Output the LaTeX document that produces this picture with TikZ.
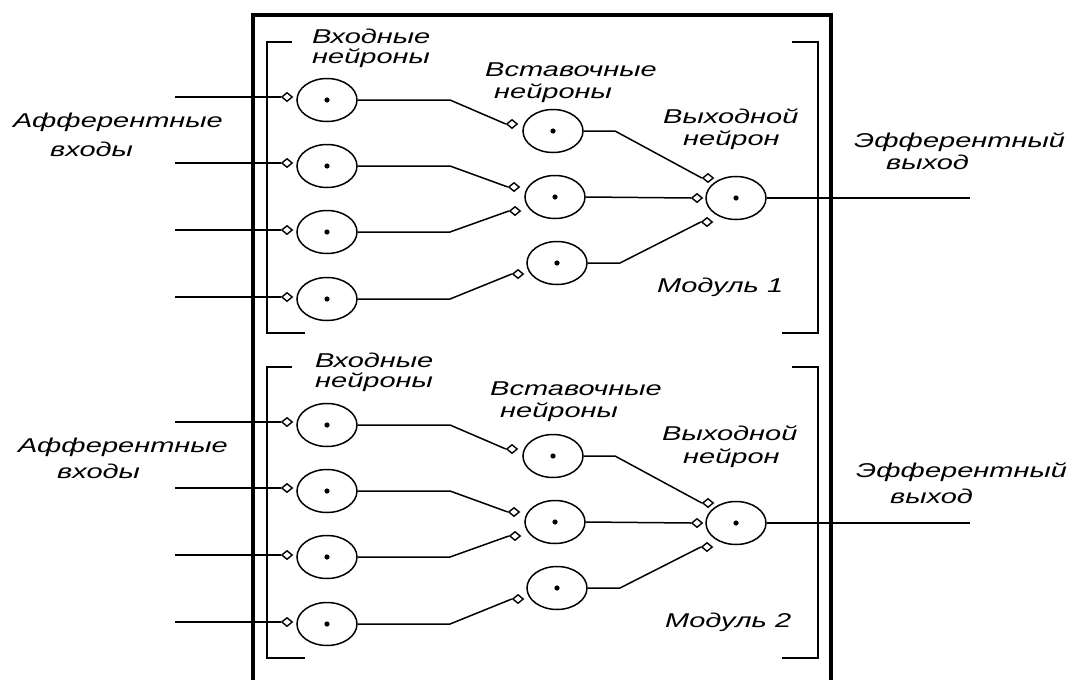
\documentclass[tikz,border=0pt]{standalone}
\usepackage{fontspec}
\usetikzlibrary{shapes.geometric}
\newfontfamily\labfont[FakeStretch=1.45]{Liberation Sans}
\tikzset{
  wire/.style={line width=1.5pt},
  frame/.style={line width=3.5pt},
  neuron/.style={ellipse, draw, line width=1.5pt, minimum width=60pt, minimum height=43pt, inner sep=0pt},
  syn/.style={diamond, draw, line width=1.4pt, fill=white, minimum width=11pt, minimum height=9pt, inner sep=0pt},
  lab/.style={anchor=base west, inner sep=0pt, font=\labfont\itshape\fontsize{20}{22}\selectfont},
}
\newcommand\drawmodule[2]{%
\begin{scope}[shift={(0,#2)}]
  % brackets
  \draw[wire] (292,42) -- (267,42) -- (267,333) -- (305,333);
  \draw[wire] (792,42) -- (818,42) -- (818,333) -- (782,333);
  % neurons
  \node[neuron] (I1#1) at (327,100) {};
  \node[neuron] (I2#1) at (327,166) {};
  \node[neuron] (I3#1) at (327,232) {};
  \node[neuron] (I4#1) at (327,299) {};
  \node[neuron] (J1#1) at (553,131) {};
  \node[neuron] (J2#1) at (555,197) {};
  \node[neuron] (J3#1) at (557,263) {};
  \node[neuron] (K#1) at (736,198) {};
  \foreach \n in {I1#1,I2#1,I3#1,I4#1,J1#1,J2#1,J3#1,K#1}
    \fill (\n.center) circle (2.6pt);
  % synapses
  \node[syn] (sI1#1) at (287,97) {};
  \node[syn] (sI2#1) at (287,163) {};
  \node[syn] (sI3#1) at (287,230) {};
  \node[syn] (sI4#1) at (287,297) {};
  \node[syn] (sJ1#1) at (512,124) {};
  \node[syn] (sJ2a#1) at (514,187) {};
  \node[syn] (sJ2b#1) at (515,211) {};
  \node[syn] (sJ3#1) at (518,274) {};
  \node[syn] (sKa#1) at (708,178) {};
  \node[syn] (sKb#1) at (697,198) {};
  \node[syn] (sKc#1) at (707,222) {};
  % helper coordinates
  \coordinate (in#1) at (175,0);
  \coordinate (out#1) at (970,0);
  \coordinate (bx#1) at (450,0);
  \coordinate (bj#1) at (615,0);
  \coordinate (bk#1) at (620,0);
  % input wires
  \draw[wire] (sI1#1.west -| in#1) -- (sI1#1.west);
  \draw[wire] (sI2#1.west -| in#1) -- (sI2#1.west);
  \draw[wire] (sI3#1.west -| in#1) -- (sI3#1.west);
  \draw[wire] (sI4#1.west -| in#1) -- (sI4#1.west);
  % input -> inter
  \draw[wire] (I1#1.east) -- (I1#1.east -| bx#1) -- (sJ1#1.west);
  \draw[wire] (I2#1.east) -- (I2#1.east -| bx#1) -- (sJ2a#1.west);
  \draw[wire] (I3#1.east) -- (I3#1.east -| bx#1) -- (sJ2b#1.west);
  \draw[wire] (I4#1.east) -- (I4#1.east -| bx#1) -- (sJ3#1.west);
  % inter -> output
  \draw[wire] (J1#1.east) -- (J1#1.east -| bj#1) -- (sKa#1.west);
  \draw[wire] (J2#1.east) -- (sKb#1.west);
  \draw[wire] (J3#1.east) -- (J3#1.east -| bk#1) -- (sKc#1.west);
  % output
  \draw[wire] (K#1.east) -- (K#1.east -| out#1);
\end{scope}}
\begin{document}
\begin{tikzpicture}[x=1pt,y=-1pt]
  \fill[white] (0,0) rectangle (1074,680);
  \useasboundingbox (0,0) rectangle (1074,680);
  \draw[frame] (253,682) -- (253,15) -- (831,15) -- (831,682);
  \drawmodule{a}{0}
  \drawmodule{b}{325}
  % labels module 1
  \node[lab] (t1) at (312,43) {Входные};
  \node[lab] (t2) at (312,63) {нейроны};
  \node[lab] (t3) at (485,76) {Вставочные};
  \node[lab] (t4) at (494,98) {нейроны};
  \node[lab] (t5) at (663,123) {Выходной};
  \node[lab] (t6) at (683,145) {нейрон};
  \node[lab] (t7) at (657,292) {Модуль 1};
  \node[lab] (t8) at (13,127) {Афферентные};
  \node[lab] (t9) at (50,156) {входы};
  \node[lab] (t10) at (854,147) {Эфферентный};
  \node[lab] (t11) at (886,169) {выход};
  % labels module 2
  \node[lab] (u1) at (315,367) {Входные};
  \node[lab] (u2) at (315,387) {нейроны};
  \node[lab] (u3) at (490,395) {Вставочные};
  \node[lab] (u4) at (500,417) {нейроны};
  \node[lab] (u5) at (662,440) {Выходной};
  \node[lab] (u6) at (683,463) {нейрон};
  \node[lab] (u7) at (665,627) {Модуль 2};
  \node[lab] (u8) at (18,452) {Афферентные};
  \node[lab] (u9) at (57,478) {входы};
  \node[lab] (u10) at (856,477) {Эфферентный};
  \node[lab] (u11) at (890,503) {выход};
\end{tikzpicture}
\end{document}
